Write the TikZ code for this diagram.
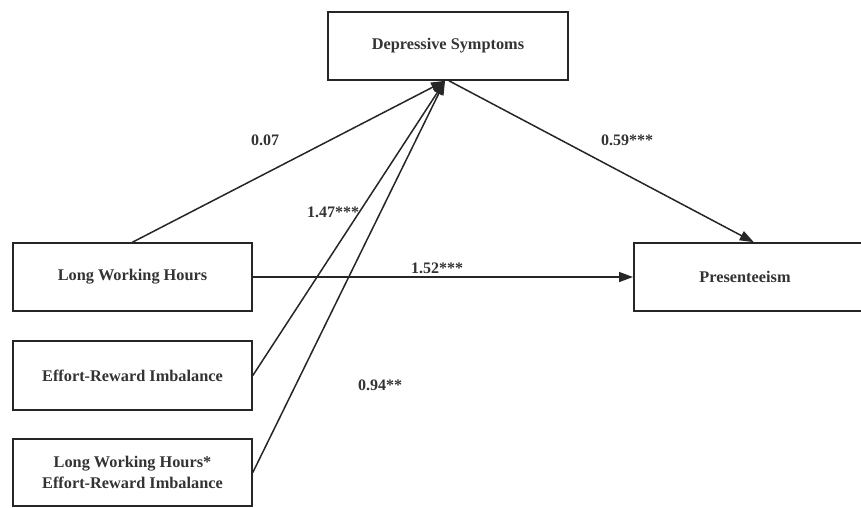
\documentclass[tikz,border=0pt]{standalone}
\usepackage{fontspec}
\setmainfont{Liberation Serif}
\usetikzlibrary{arrows.meta}

\tikzset{
  varbox/.style={draw=black!85,line width=1.6pt,rectangle,inner sep=0pt,
    align=center,text=black!80,font=\fontsize{16.3}{21.5}\selectfont\bfseries},
  path/.style={draw=black!85,line width=1.5pt,-{Triangle[length=14pt,width=10pt]}},
  coef/.style={text=black!80,font=\fontsize{16}{19}\selectfont\bfseries}
}

\begin{document}
\begin{tikzpicture}[x=1pt,y=-1pt]
\useasboundingbox (0,0) rectangle (861,507);

\node[varbox,minimum width=240pt,minimum height=68pt] (dep) at (448,46) {Depressive Symptoms};
\node[varbox,minimum width=239pt,minimum height=68pt] (lwh) at (132.5,277) {Long Working Hours};
\node[varbox,minimum width=239pt,minimum height=69pt] (eri) at (132.5,375.5) {Effort-Reward Imbalance};
\node[varbox,minimum width=239pt,minimum height=67pt] (inter) at (132.5,472.5) {Long Working Hours*\\Effort-Reward Imbalance};
\node[varbox,minimum width=237pt,minimum height=68pt,anchor=west] (pres) at (633,277) {};
\node[varbox,draw=none] (prestext) at (745,277) {Presenteeism};

\draw[path] (lwh.north) -- ([xshift=-3pt]dep.south);
\draw[path] (eri.east) -- ([xshift=-3pt]dep.south);
\draw[path] (inter.east) -- ([xshift=-3pt]dep.south);
\draw[path] (lwh.east) -- (pres.west);
\draw[path] ([xshift=1pt]dep.south) -- ([xshift=1.5pt]pres.north);

\node[coef] at (265,140) {0.07};
\node[coef] at (333,212) {1.47***};
\node[coef] at (380,385) {0.94**};
\node[coef] at (437,268) {1.52***};
\node[coef] at (627,140) {0.59***};
\end{tikzpicture}
\end{document}
